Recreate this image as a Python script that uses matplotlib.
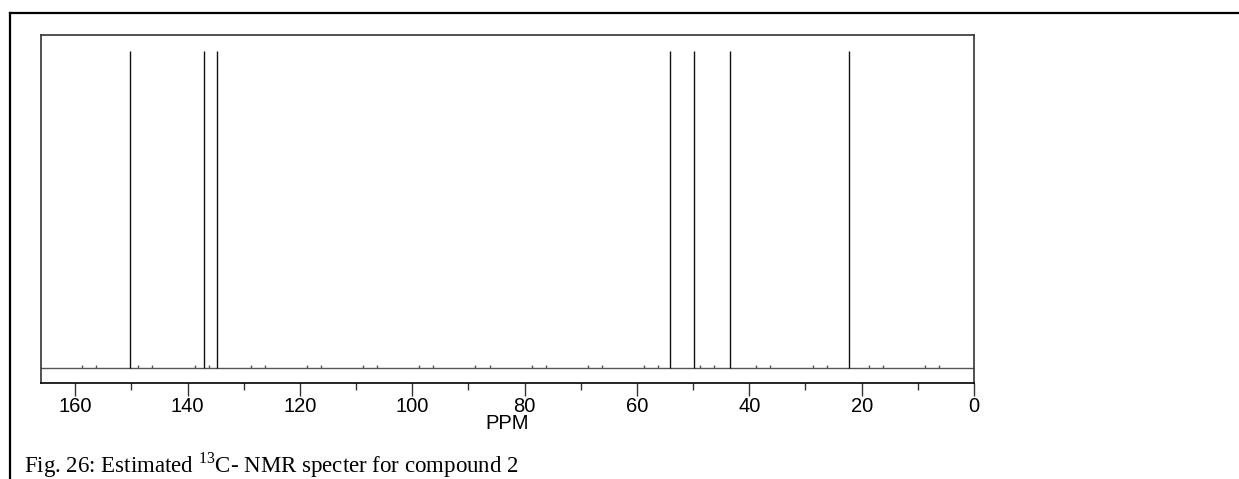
import numpy as np
import matplotlib
matplotlib.use("Agg")
import matplotlib.pyplot as plt
from matplotlib.lines import Line2D

# ---- data ----
peak_ppm = [150.3, 137.0, 134.8, 54.2, 49.9, 43.4, 22.2]
peak_height = [1.0, 1.0, 1.0, 1.0, 1.0, 1.0, 1.0]
major_ticks = [160, 140, 120, 100, 80, 60, 40, 20, 0]
minor_ticks = [150, 130, 110, 90, 70, 50, 30, 10]
x_label = "PPM"
caption = r"Fig. 26: Estimated $^{\mathrm{13}}$C- NMR specter for compound 2"

plt.rcParams['font.family'] = ['Liberation Sans', 'DejaVu Sans']
plt.rcParams['mathtext.fontset'] = 'custom'
plt.rcParams['mathtext.rm'] = 'Liberation Serif'

W, H = 1239, 479
fig = plt.figure(figsize=(W / 100, H / 100), dpi=100)

# axes box: x 41..974, y 35..383 (pixels)
left, right, top, bottom = 41, 974, 35, 383
ax = fig.add_axes([left / W, 1 - bottom / H, (right - left) / W, (bottom - top) / H])

ax.set_xlim(166.1, 0)
ax.set_ylim(-0.0473, 1.0505)

# baseline
ax.axhline(0, color='#555555', lw=1.0, zorder=2)
# small marks on baseline
bl = np.concatenate([np.arange(8.75, 166, 10), np.arange(6.25, 166, 10)])
ax.vlines(bl, 0, 0.009, color='#555555', lw=1.0)

# peaks
ax.vlines(peak_ppm, 0, peak_height, color='#111111', lw=1.0)

# spines
for s in ['left', 'right', 'top']:
    ax.spines[s].set_color('#333333')
    ax.spines[s].set_linewidth(1.2)
ax.spines['bottom'].set_color('black')
ax.spines['bottom'].set_linewidth(1.2)

ax.set_yticks([])
ax.set_xticks(major_ticks)
ax.set_xticklabels([str(t) for t in major_ticks])
ax.set_xticks(minor_ticks, minor=True)
ax.tick_params(axis='x', which='major', direction='out', length=9.4, width=1.0,
               color='#333333', labelsize=14.5, pad=1.0)
ax.tick_params(axis='x', which='minor', direction='out', length=5.0, width=1.0,
               color='#333333')
ax.set_xlabel(x_label, fontsize=14.5, labelpad=-1.5)

# outer frame (top and left lines)
fig.add_artist(Line2D([10 / W, 1.0], [1 - 13 / H, 1 - 13 / H], color='black', lw=1.6,
                      transform=fig.transFigure))
fig.add_artist(Line2D([10 / W, 10 / W], [0.0, 1 - 13 / H], color='black', lw=1.6,
                      transform=fig.transFigure))

# caption
fig.text(24 / W, 1 - 473 / H, caption, family='Liberation Serif', fontsize=16.5,
         ha='left', va='baseline')

fig.savefig('out.png', dpi=100)
